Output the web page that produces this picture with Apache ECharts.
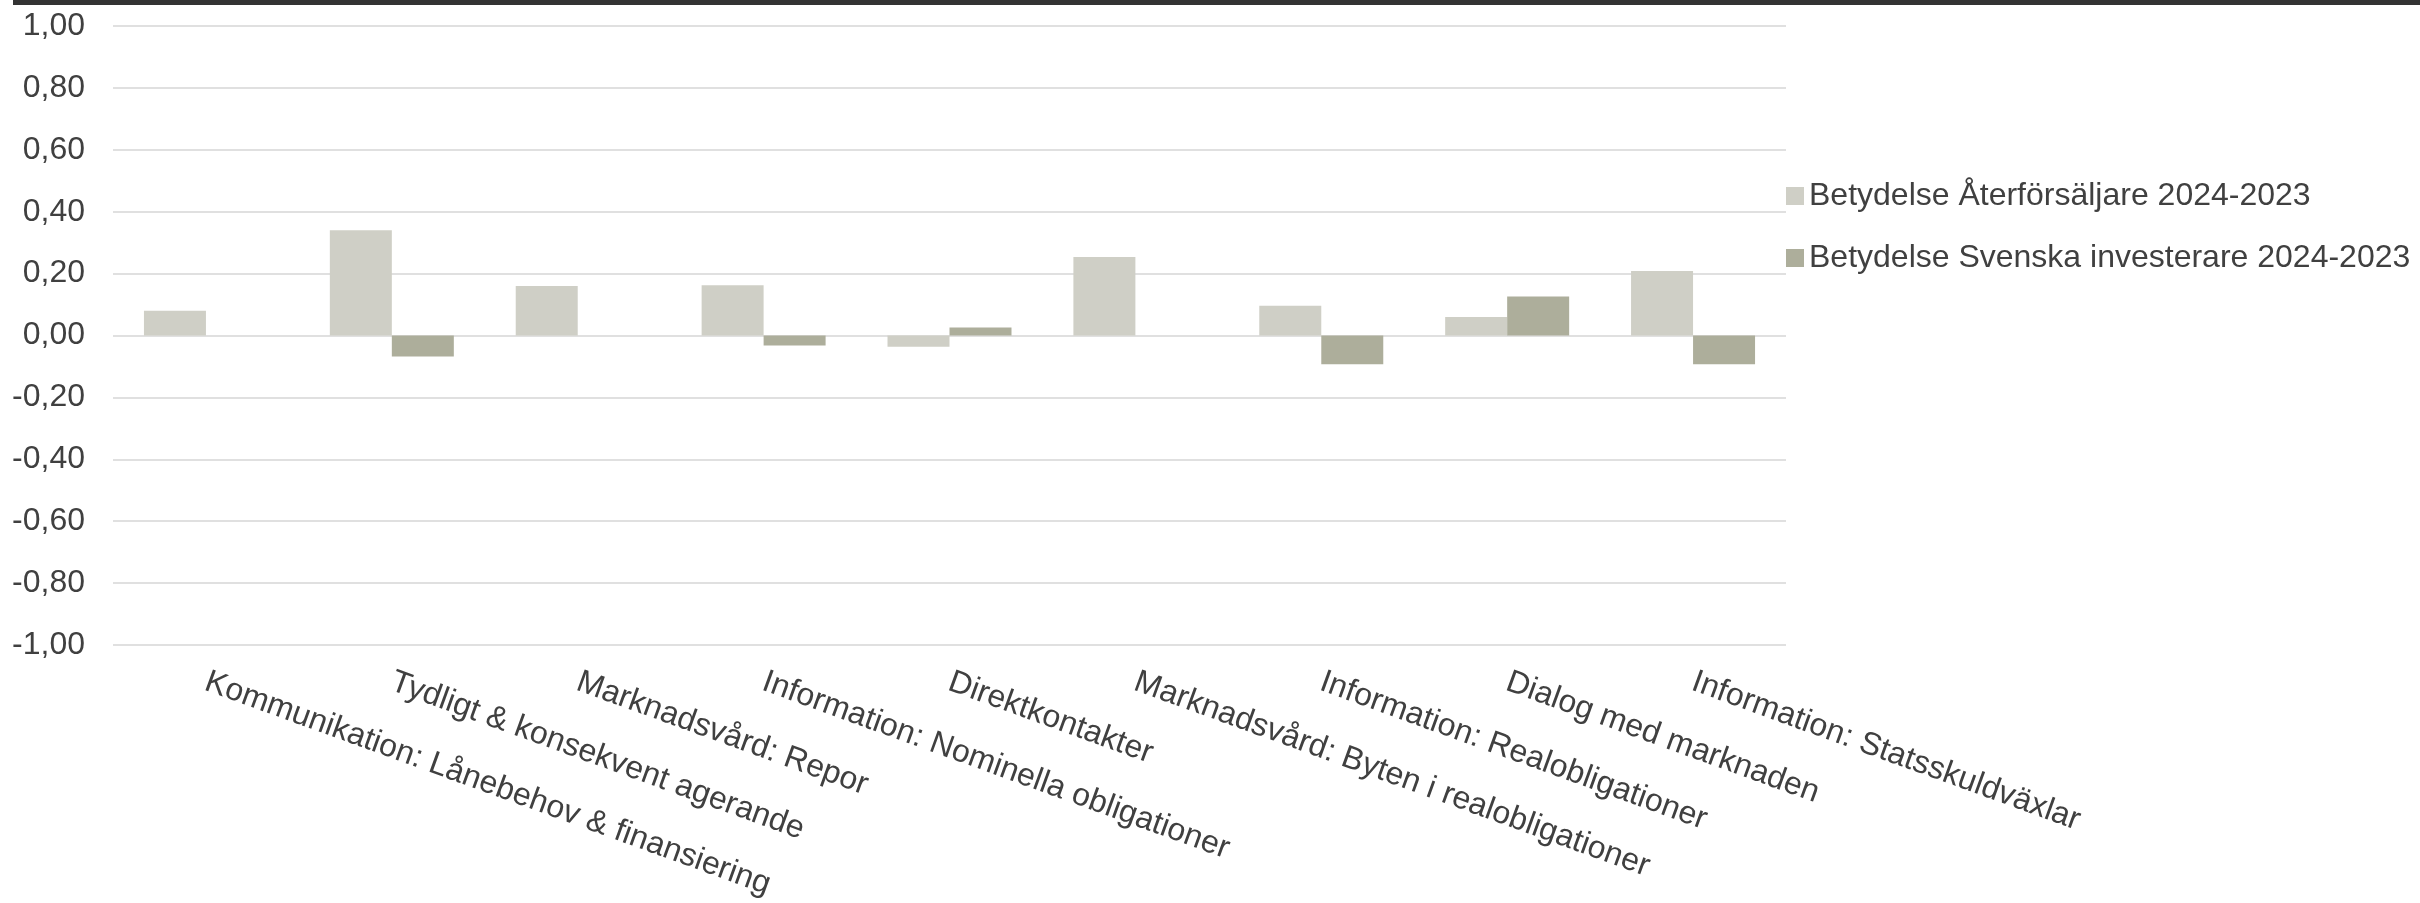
<!DOCTYPE html>
<html>
<head>
<meta charset="utf-8">
<script src="https://cdn.jsdelivr.net/npm/echarts@6/dist/echarts.min.js"></script>
<style>
html,body{margin:0;padding:0;background:#fff;}
#chart{width:2420px;height:903px;}
</style>
</head>
<body>
<div id="chart"></div>
<script>
var categories = [
  'Kommunikation: Lånebehov & finansiering',
  'Tydligt & konsekvent agerande',
  'Marknadsvård: Repor',
  'Information: Nominella obligationer',
  'Direktkontakter',
  'Marknadsvård: Byten i realobligationer',
  'Information: Realobligationer',
  'Dialog med marknaden',
  'Information: Statsskuldväxlar'
];
var seriesNames = ['Betydelse Återförsäljare 2024-2023', 'Betydelse Svenska investerare 2024-2023'];
var aterforsaljare = [0.08, 0.34, 0.16, 0.162, -0.036, 0.254, 0.096, 0.06, 0.208];
var investerare = [0, -0.068, 0, -0.032, 0.026, 0, -0.093, 0.126, -0.093];
var yTickLabels = ['-1,00', '-0,80', '-0,60', '-0,40', '-0,20', '0,00', '0,20', '0,40', '0,60', '0,80', '1,00'];
var yMin = -1, yMax = 1, yStep = 0.2;

var FONT = '"Liberation Sans", Arial, sans-serif';
var TXT = '#404040';
var chart = echarts.init(document.getElementById('chart'));
chart.setOption({
  animation: false,
  backgroundColor: '#ffffff',
  textStyle: {fontFamily: FONT},
  graphic: [{
    type: 'rect', left: 13, top: 0,
    shape: {width: 2407, height: 5},
    style: {fill: '#333333'}
  }],
  grid: {left: 113, right: 634, top: 26, bottom: 258, containLabel: false},
  legend: {
    orient: 'vertical',
    left: 1786, top: 178,
    padding: 0,
    itemWidth: 18, itemHeight: 18,
    itemGap: 26,
    icon: 'rect',
    textStyle: {fontFamily: FONT, fontSize: 32, color: TXT, lineHeight: 36},
    data: seriesNames
  },
  xAxis: {
    type: 'category',
    data: categories,
    axisLine: {show: false},
    axisTick: {show: false},
    axisLabel: {
      interval: 0,
      rotate: -20,
      margin: 36,
      fontFamily: FONT, fontSize: 32, color: TXT
    }
  },
  yAxis: {
    type: 'value',
    min: yMin, max: yMax, interval: yStep,
    axisLine: {show: false},
    axisTick: {show: false},
    splitLine: {lineStyle: {color: '#E0E0E0', width: 2}},
    axisLabel: {
      margin: 28,
      fontFamily: FONT, fontSize: 32, color: TXT,
      formatter: function (v) {
        var i = Math.round((v - yMin) / yStep);
        return yTickLabels[i];
      }
    }
  },
  series: [
    {
      name: seriesNames[0], type: 'bar', data: aterforsaljare,
      itemStyle: {color: '#CFCFC6'},
      barGap: '0%', barCategoryGap: '33.3%'
    },
    {
      name: seriesNames[1], type: 'bar', data: investerare,
      itemStyle: {color: '#ADAE9B'},
      barGap: '0%', barCategoryGap: '33.3%'
    }
  ]
});
</script>
</body>
</html>
